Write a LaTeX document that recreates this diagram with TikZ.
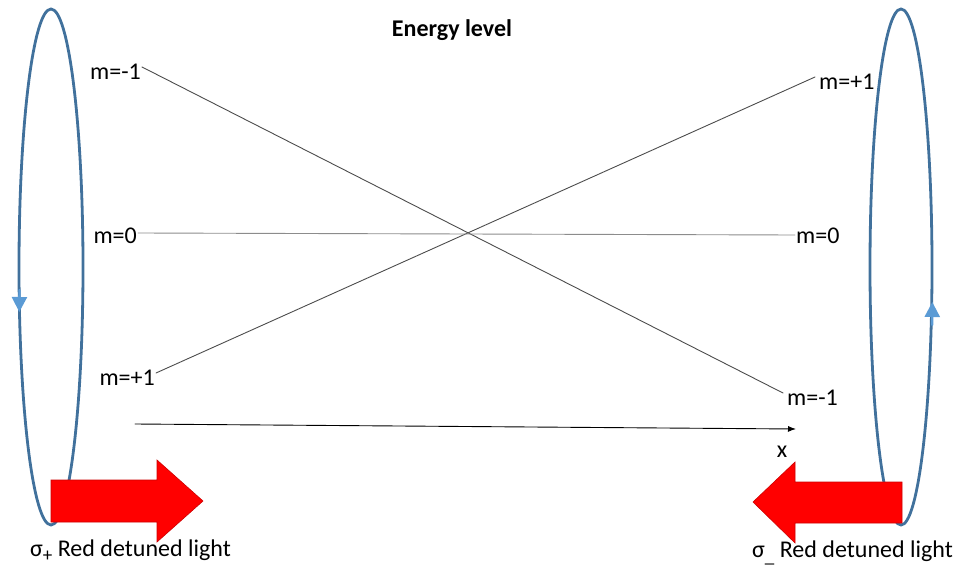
\documentclass[tikz,border=0pt]{standalone}
\usepackage{fontspec}
\setmainfont{Carlito}
\usepackage{tikz}
\usetikzlibrary{arrows.meta}

\newcommand{\lowsign}[1]{\raisebox{-0.45ex}{\fontsize{19}{20}\selectfont #1}}

\begin{document}
\begin{tikzpicture}[x=1pt, y=-1pt, line cap=round,
    level/.style={draw=black!70, line width=0.9pt},
    lbl/.style={font=\fontsize{24}{28}\selectfont, inner sep=1pt},
    beam/.style={fill=red, draw=red!80!black, line width=0.6pt}]
  \useasboundingbox (0,0) rectangle (966,567);
  \definecolor{ringblue}{RGB}{65,113,156}
  \definecolor{tipblue}{RGB}{91,155,213}
  % polarisation rings
  \draw[line width=2.8pt, ringblue] (51,267) ellipse [x radius=32, y radius=258];
  \draw[line width=2.8pt, ringblue] (901,267) ellipse [x radius=31, y radius=258];
  \draw[tipblue, line width=2.4pt, -{Triangle[length=15pt,width=15pt]}] (19.5,290) -- (19.3,312);
  \draw[tipblue, line width=2.4pt, -{Triangle[length=15pt,width=15pt]}] (932.2,325) -- (932.3,302);
  % title
  \node[font=\fontsize{24}{28}\selectfont\bfseries] (title) at (452,30) {Energy level};
  % sublevel labels
  \node[lbl, anchor=east] (lm) at (142,72) {m=-1};
  \node[lbl, anchor=east] (lz) at (138,236) {m=0};
  \node[lbl, anchor=east] (lp) at (156,378) {m=+1};
  \node[lbl, anchor=west] (rp) at (818,82) {m=+1};
  \node[lbl, anchor=west] (rz) at (795,236) {m=0};
  \node[lbl, anchor=west] (rm) at (786,398) {m=-1};
  % shifted levels
  \draw[level] ([yshift=5pt]lm.east) -- ([shift={(-3pt,5pt)}]rm.west);
  \draw[level] ([yshift=5pt]lp.east) -- ([shift={(-3pt,5pt)}]rp.west);
  \draw[draw=black!45, line width=0.9pt] ([yshift=3pt]lz.east) -- ([yshift=1pt]rz.west);
  % position axis
  \coordinate (x0) at (135,424);
  \node[lbl] (xl) at (782,452) {x};
  \draw[black, line width=0.9pt, -{Latex[length=8pt,width=6pt]}] (x0) -- (796,429);
  % red-detuned beams
  \fill[beam] (51,480) -- (157,480) -- (157,460) -- (203,501) -- (157,542) -- (157,522) -- (51,522) -- cycle;
  \fill[beam] (902,482) -- (795,482) -- (795,462) -- (753,502) -- (795,543) -- (795,523) -- (902,523) -- cycle;
  \node[lbl, anchor=west] (sp) at (29,551) {σ\lowsign{+} Red detuned light};
  \node[lbl, anchor=west] (sm) at (751,553) {σ\lowsign{\_} Red detuned light};
\end{tikzpicture}
\end{document}
